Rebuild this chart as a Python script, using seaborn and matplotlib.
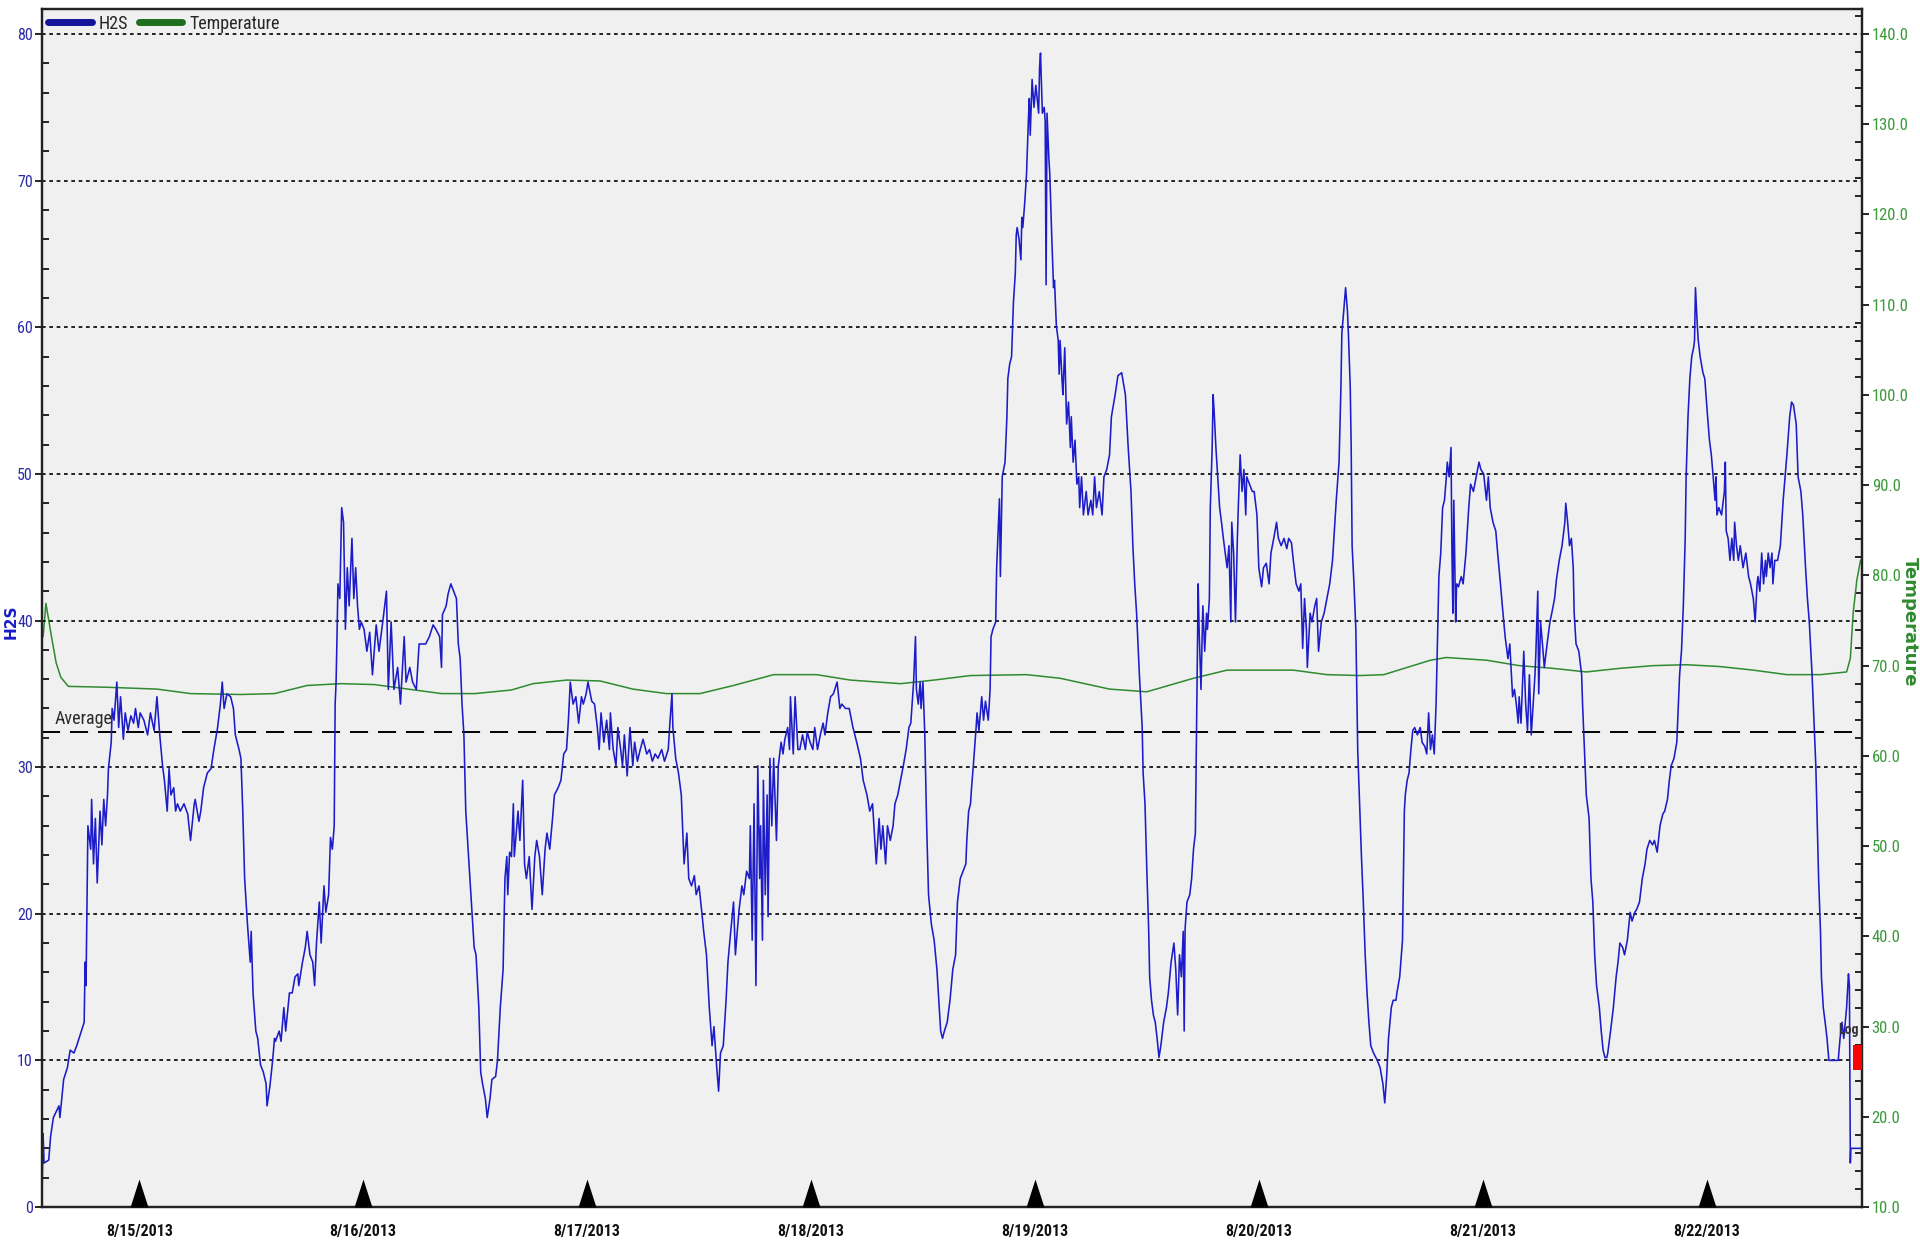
import numpy as np
import pandas as pd
import matplotlib
matplotlib.use("Agg")
import matplotlib.pyplot as plt
from matplotlib.path import Path
from matplotlib.patches import Rectangle
from matplotlib.lines import Line2D
from matplotlib.ticker import MultipleLocator, FormatStrFormatter
from matplotlib import font_manager
import matplotlib.transforms as mtransforms
import seaborn as sns

# ---------------------------------------------------------------- data
# logger readings: (hours since 2013-08-14 00:00, H2S ppm)
h2s_aug14 = [
    (13.6, 1.5), (13.7, 5.0), (13.8, 3.0), (14.3, 3.2), (14.5, 4.8), (14.8, 6.1), (15.4, 6.9),
    (15.5, 6.1), (15.9, 8.7), (16.3, 9.5), (16.6, 10.7), (17.0, 10.5), (17.3, 11.0), (17.7, 11.8),
    (18.1, 12.6), (18.2, 16.7), (18.3, 15.1), (18.5, 26.0), (18.8, 24.4), (18.9, 27.8), (19.1, 23.4),
    (19.3, 26.5), (19.5, 22.1), (19.7, 25.5), (19.8, 27.0), (20.0, 24.7), (20.2, 27.8), (20.4, 26.0),
    (20.6, 28.1), (20.7, 29.9), (21.0, 31.7), (21.1, 34.0), (21.3, 33.2), (21.6, 35.8), (21.8, 32.7),
    (22.0, 34.8), (22.3, 31.9), (22.5, 33.7), (22.8, 32.5), (23.1, 33.5), (23.4, 33.0), (23.6, 34.0),
    (23.9, 32.7),
]
h2s_aug15 = [
    (24.1, 33.7), (24.5, 33.2), (24.9, 32.2), (25.2, 33.7), (25.6, 32.5), (25.9, 34.8), (26.2, 32.2),
    (26.5, 30.1), (26.7, 29.1), (27.0, 27.0), (27.2, 29.9), (27.4, 28.1), (27.7, 28.6), (27.9, 27.0),
    (28.1, 27.5), (28.4, 27.0), (28.8, 27.5), (29.2, 26.8), (29.5, 25.0), (29.9, 27.5), (30.0, 27.8),
    (30.4, 26.3), (30.6, 27.0), (30.9, 28.6), (31.3, 29.6), (31.7, 29.9), (32.0, 31.2), (32.4, 32.7),
    (32.7, 34.3), (32.9, 35.8), (33.1, 34.0), (33.4, 35.0), (33.8, 34.8), (34.1, 34.0), (34.3, 32.2),
    (34.7, 31.2), (34.9, 30.6), (35.1, 27.0), (35.3, 22.4), (35.6, 19.3), (35.9, 16.7), (36.0, 18.8),
    (36.2, 14.6), (36.5, 12.0), (36.7, 11.5), (37.0, 9.7), (37.3, 9.2), (37.6, 8.4), (37.7, 6.9),
    (38.0, 8.2), (38.3, 10.0), (38.5, 11.5), (38.6, 11.3), (39.0, 12.0), (39.2, 11.3), (39.5, 13.6),
    (39.7, 12.0), (40.1, 14.6), (40.4, 14.6), (40.7, 15.7), (41.0, 15.9), (41.1, 15.1), (41.5, 16.7),
    (41.8, 17.7), (42.0, 18.8), (42.3, 17.2), (42.6, 16.7), (42.8, 15.1), (43.0, 18.0), (43.3, 20.8),
    (43.5, 18.0), (43.8, 21.9), (44.0, 20.1), (44.3, 21.3), (44.5, 25.2), (44.7, 24.4), (44.9, 26.0),
    (45.0, 34.3), (45.1, 35.8), (45.2, 38.9), (45.3, 42.5), (45.5, 41.5), (45.7, 47.7), (45.9, 46.7),
    (46.1, 39.4), (46.3, 43.6), (46.5, 41.0), (46.8, 45.6), (47.0, 41.5), (47.2, 43.6), (47.4, 41.0),
    (47.6, 39.4), (47.8, 39.9),
]
h2s_aug16 = [
    (48.1, 39.4), (48.4, 37.9), (48.7, 39.2), (49.0, 36.3), (49.4, 39.7), (49.7, 37.9), (50.1, 39.9),
    (50.5, 42.0), (50.7, 35.3), (51.0, 39.9), (51.3, 35.3), (51.7, 36.8), (52.0, 34.3), (52.2, 36.6),
    (52.4, 38.9), (52.6, 35.8), (53.0, 36.8), (53.3, 35.8), (53.7, 35.3), (54.0, 38.4), (54.4, 38.4),
    (54.7, 38.4), (55.1, 38.9), (55.5, 39.7), (55.8, 39.4), (56.2, 38.9), (56.4, 36.8), (56.5, 40.4),
    (56.9, 41.0), (57.1, 41.8), (57.4, 42.5), (57.7, 42.0), (58.0, 41.5), (58.2, 38.4), (58.4, 37.4),
    (58.6, 34.3), (58.8, 32.2), (59.0, 27.0), (59.3, 23.9), (59.6, 20.8), (59.9, 17.7), (60.1, 17.2),
    (60.4, 13.6), (60.6, 9.2), (60.8, 8.4), (61.1, 7.4), (61.3, 6.1), (61.6, 7.4), (61.8, 8.7),
    (62.2, 8.9), (62.4, 10.0), (62.7, 13.6), (63.0, 16.2), (63.2, 22.4), (63.4, 23.9), (63.5, 21.3),
    (63.7, 24.2), (63.9, 23.9), (64.1, 27.5), (64.2, 23.9), (64.6, 27.0), (64.8, 25.0), (65.1, 29.1),
    (65.3, 23.4), (65.5, 22.4), (65.8, 23.9), (66.1, 20.3), (66.4, 23.9), (66.6, 25.0), (66.9, 23.9),
    (67.2, 21.3), (67.5, 24.4), (67.7, 25.5), (68.0, 24.4), (68.3, 26.5), (68.5, 28.1), (68.9, 28.6),
    (69.2, 29.1), (69.5, 30.9), (69.8, 31.2), (70.0, 33.2), (70.2, 35.8), (70.5, 34.3), (70.8, 34.8),
    (71.1, 33.0), (71.4, 34.8), (71.6, 34.3), (71.9, 35.0),
]
h2s_aug17 = [
    (72.1, 35.8), (72.5, 34.5), (72.8, 34.3), (73.1, 32.7), (73.3, 31.2), (73.5, 33.7), (73.8, 31.7),
    (74.1, 33.2), (74.4, 31.2), (74.5, 33.7), (74.8, 31.2), (75.1, 30.1), (75.3, 32.7), (75.6, 31.2),
    (75.8, 30.1), (76.0, 32.2), (76.3, 29.4), (76.6, 32.7), (76.9, 30.1), (77.1, 31.7), (77.4, 30.4),
    (77.7, 31.2), (78.0, 31.9), (78.4, 30.9), (78.7, 31.2), (79.0, 30.4), (79.3, 30.9), (79.6, 30.6),
    (80.0, 31.2), (80.3, 30.4), (80.7, 31.2), (80.9, 33.2), (81.1, 35.0), (81.2, 32.7), (81.5, 30.6),
    (81.8, 29.6), (82.1, 28.1), (82.4, 23.4), (82.7, 25.5), (82.9, 22.4), (83.2, 21.9), (83.5, 22.6),
    (83.7, 21.3), (84.0, 21.9), (84.3, 20.1), (84.5, 18.8), (84.8, 17.2), (85.1, 13.6), (85.4, 11.0),
    (85.6, 12.3), (85.9, 9.5), (86.1, 7.9), (86.3, 10.5), (86.6, 11.0), (86.9, 14.1), (87.1, 16.7),
    (87.4, 18.8), (87.7, 20.8), (87.9, 17.2), (88.1, 18.8), (88.3, 20.3), (88.6, 21.9), (88.8, 21.3),
    (89.1, 22.9), (89.4, 22.4), (89.5, 26.0), (89.7, 18.2), (89.9, 27.5), (90.1, 15.1), (90.3, 30.1),
    (90.5, 22.4), (90.6, 26.0), (90.8, 18.2), (90.9, 29.1), (91.1, 21.3), (91.3, 28.1), (91.4, 19.8),
    (91.6, 30.6), (91.8, 26.0), (92.0, 30.6), (92.3, 25.0), (92.5, 30.1), (92.8, 31.7), (93.0, 30.9),
    (93.2, 31.9), (93.5, 32.7), (93.7, 31.2), (93.8, 34.8), (94.1, 30.9), (94.3, 34.8), (94.6, 31.2),
    (94.8, 31.2), (95.1, 32.2), (95.4, 31.2), (95.6, 32.4), (95.9, 31.7),
]
h2s_aug18 = [
    (96.2, 31.2), (96.4, 32.7), (96.7, 31.2), (97.0, 32.2), (97.3, 33.0), (97.5, 32.2), (97.8, 33.7),
    (98.1, 34.8), (98.4, 35.0), (98.8, 35.8), (99.1, 34.0), (99.3, 34.3), (99.7, 34.0), (100.1, 34.0),
    (100.5, 32.7), (100.9, 31.7), (101.3, 30.6), (101.6, 29.1), (102.0, 28.1), (102.3, 27.0),
    (102.6, 27.5), (103.0, 23.4), (103.3, 26.5), (103.5, 24.4), (103.7, 26.0), (104.0, 23.4),
    (104.2, 26.0), (104.5, 25.0), (104.8, 26.0), (105.0, 27.5), (105.3, 28.1), (105.6, 29.1),
    (105.9, 30.1), (106.2, 31.2), (106.5, 32.7), (106.7, 33.0), (107.0, 35.8), (107.2, 38.9),
    (107.3, 35.3), (107.5, 34.3), (107.7, 35.8), (107.8, 34.0), (108.0, 35.8), (108.2, 32.2),
    (108.4, 26.0), (108.6, 21.3), (108.9, 19.3), (109.2, 18.2), (109.5, 16.2), (109.7, 14.1),
    (109.9, 12.0), (110.1, 11.5), (110.3, 12.0), (110.6, 12.6), (110.9, 14.1), (111.2, 16.2),
    (111.5, 17.2), (111.7, 20.8), (112.0, 22.4), (112.3, 22.9), (112.6, 23.4), (112.7, 25.0),
    (112.9, 27.0), (113.1, 27.5), (113.2, 28.5), (113.4, 30.1), (113.7, 32.7), (113.8, 33.7),
    (114.0, 32.5), (114.3, 34.8), (114.5, 33.2), (114.7, 34.5), (115.0, 33.2), (115.2, 35.3),
    (115.3, 38.9), (115.5, 39.4), (115.8, 39.9), (115.9, 43.6), (116.2, 48.3), (116.3, 43.0),
    (116.5, 49.8), (116.8, 50.8), (117.0, 53.9), (117.1, 56.5), (117.3, 57.5), (117.5, 58.0),
    (117.7, 61.7), (117.9, 63.7), (118.0, 66.3), (118.1, 66.8), (118.3, 66.0), (118.5, 64.6),
    (118.6, 67.5), (118.7, 66.8), (118.9, 68.4), (119.1, 70.4), (119.3, 74.1), (119.4, 75.6),
    (119.5, 73.1), (119.7, 76.9), (119.9, 75.0),
]
h2s_aug19 = [
    (120.1, 76.5), (120.4, 74.6), (120.5, 77.7), (120.6, 78.7), (120.8, 74.6), (121.0, 75.0),
    (121.1, 74.1), (121.2, 62.9), (121.3, 74.6), (121.5, 71.5), (121.6, 70.4), (121.8, 66.3),
    (122.0, 62.7), (122.1, 63.2), (122.3, 60.1), (122.5, 59.1), (122.6, 56.8), (122.7, 59.1),
    (122.9, 56.5), (123.0, 55.4), (123.2, 58.6), (123.4, 53.4), (123.6, 54.9), (123.8, 51.8),
    (123.9, 53.9), (124.1, 50.8), (124.3, 52.3), (124.5, 49.3), (124.7, 49.8), (124.8, 47.7),
    (125.0, 49.8), (125.2, 47.2), (125.5, 48.8), (125.7, 47.2), (126.0, 48.2), (126.2, 47.2),
    (126.4, 49.8), (126.6, 47.7), (126.9, 48.8), (127.2, 47.2), (127.4, 49.8), (127.7, 50.3),
    (128.0, 51.3), (128.2, 53.9), (128.6, 55.4), (128.9, 56.7), (129.3, 56.9), (129.7, 55.4),
    (130.0, 51.8), (130.3, 48.8), (130.5, 45.1), (130.7, 42.5), (130.9, 40.5), (131.2, 36.3),
    (131.5, 32.7), (131.6, 29.6), (131.8, 27.5), (132.0, 22.9), (132.2, 18.8), (132.3, 15.7),
    (132.5, 14.1), (132.7, 13.1), (132.9, 12.6), (133.1, 11.5), (133.3, 10.2), (133.5, 11.0),
    (133.8, 12.6), (134.1, 13.6), (134.3, 14.6), (134.6, 16.7), (134.9, 18.0), (135.1, 16.2),
    (135.3, 13.1), (135.5, 17.2), (135.7, 15.7), (135.9, 18.8), (136.0, 12.0), (136.1, 19.0),
    (136.3, 20.8), (136.6, 21.3), (136.8, 22.4), (137.0, 24.4), (137.2, 25.5), (137.3, 31.2),
    (137.4, 36.3), (137.5, 42.5), (137.6, 39.4), (137.8, 35.3), (138.0, 41.0), (138.2, 37.9),
    (138.4, 40.5), (138.5, 39.4), (138.7, 41.5), (138.8, 47.7), (139.0, 51.8), (139.1, 55.4),
    (139.2, 54.4), (139.4, 51.8), (139.6, 49.8), (139.8, 47.7), (140.0, 46.7), (140.2, 45.6),
    (140.4, 44.6), (140.6, 43.6), (140.8, 45.1), (141.0, 39.9), (141.1, 46.7), (141.3, 44.6),
    (141.5, 39.9), (141.7, 45.6), (141.8, 47.7), (142.0, 51.3), (142.2, 48.8), (142.4, 50.3),
    (142.6, 47.2), (142.7, 49.8), (143.0, 49.3), (143.3, 48.8), (143.5, 48.8), (143.8, 47.2),
]
h2s_aug20 = [
    (144.0, 43.6), (144.3, 42.3), (144.5, 43.6), (144.8, 43.9), (145.1, 42.5), (145.3, 44.6),
    (145.6, 45.6), (145.9, 46.7), (146.1, 45.6), (146.4, 45.1), (146.7, 45.6), (147.0, 44.9),
    (147.2, 45.6), (147.5, 45.3), (147.7, 44.1), (148.0, 42.5), (148.3, 42.0), (148.5, 42.5),
    (148.7, 38.1), (148.9, 41.5), (149.1, 39.4), (149.2, 36.8), (149.5, 40.5), (149.7, 39.9),
    (150.0, 41.0), (150.2, 41.5), (150.4, 37.9), (150.7, 39.9), (151.0, 40.5), (151.3, 41.5),
    (151.6, 42.5), (151.9, 44.1), (152.0, 45.1), (152.3, 48.2), (152.6, 50.8), (152.8, 55.9),
    (152.9, 59.6), (153.1, 61.1), (153.3, 62.7), (153.5, 61.1), (153.6, 59.6), (153.8, 55.9),
    (153.9, 51.8), (154.0, 45.1), (154.2, 42.5), (154.4, 39.4), (154.5, 35.3), (154.6, 31.2),
    (154.8, 27.5), (155.0, 23.9), (155.2, 20.8), (155.4, 17.2), (155.6, 14.6), (155.8, 12.6),
    (156.0, 11.0), (156.3, 10.5), (156.7, 10.0), (157.0, 9.5), (157.3, 8.4), (157.5, 7.1),
    (157.7, 8.9), (157.9, 11.5), (158.2, 13.6), (158.4, 14.1), (158.7, 14.1), (158.8, 14.6),
    (159.1, 15.7), (159.4, 18.2), (159.6, 27.0), (159.7, 28.1), (159.9, 29.1), (160.1, 29.6),
    (160.3, 31.2), (160.5, 32.5), (160.7, 32.7), (161.0, 32.2), (161.3, 32.7), (161.5, 31.7),
    (161.8, 31.4), (162.0, 30.9), (162.2, 33.7), (162.4, 31.2), (162.6, 32.2), (162.8, 30.9),
    (163.0, 34.3), (163.2, 39.9), (163.3, 43.0), (163.5, 44.6), (163.7, 47.7), (163.9, 48.2),
    (164.1, 49.8), (164.2, 50.8), (164.4, 49.8), (164.6, 51.8), (164.7, 44.6), (164.8, 40.5),
    (164.9, 48.2), (165.1, 39.9), (165.2, 42.5), (165.4, 42.3), (165.7, 43.0), (165.9, 42.5),
    (166.2, 44.6), (166.5, 47.7), (166.7, 49.3), (167.0, 48.8), (167.3, 49.8), (167.6, 50.8),
    (167.8, 50.3),
]
h2s_aug21 = [
    (168.1, 50.0), (168.4, 48.2), (168.6, 49.8), (168.8, 47.7), (169.1, 46.7), (169.4, 46.1),
    (169.6, 44.6), (169.9, 42.5), (170.1, 41.0), (170.4, 38.9), (170.7, 37.4), (170.9, 38.4),
    (171.2, 34.8), (171.4, 35.3), (171.6, 34.3), (171.8, 33.0), (171.9, 34.8), (172.1, 33.0),
    (172.4, 37.9), (172.6, 34.3), (172.8, 32.5), (173.0, 36.3), (173.2, 32.2), (173.4, 34.3),
    (173.6, 36.3), (173.7, 37.9), (173.9, 42.0), (174.0, 35.0), (174.2, 39.9), (174.4, 38.4),
    (174.6, 36.8), (174.9, 38.4), (175.2, 39.9), (175.4, 40.5), (175.7, 41.5), (175.9, 42.8),
    (176.2, 44.1), (176.5, 45.1), (176.8, 46.7), (176.9, 48.0), (177.1, 46.7), (177.3, 45.1),
    (177.5, 45.6), (177.7, 43.6), (177.8, 40.5), (178.0, 38.4), (178.3, 37.9), (178.6, 36.3),
    (178.7, 34.3), (178.9, 31.2), (179.1, 28.1), (179.4, 26.5), (179.6, 22.4), (179.8, 20.8),
    (180.0, 17.2), (180.2, 15.1), (180.5, 13.6), (180.7, 12.0), (180.9, 10.7), (181.1, 10.2),
    (181.3, 10.2), (181.4, 10.5), (181.7, 12.0), (182.0, 13.6), (182.3, 15.7), (182.5, 16.7),
    (182.7, 18.0), (183.0, 17.7), (183.2, 17.2), (183.5, 18.2), (183.8, 20.1), (184.0, 19.5),
    (184.3, 20.1), (184.5, 20.3), (184.8, 20.8), (185.1, 22.4), (185.4, 23.4), (185.6, 24.4),
    (185.9, 25.0), (186.2, 24.7), (186.4, 25.0), (186.7, 24.2), (187.0, 26.0), (187.3, 26.8),
    (187.5, 27.0), (187.8, 27.8), (188.0, 29.1), (188.2, 30.1), (188.5, 30.6), (188.8, 31.7),
    (188.9, 33.2), (189.1, 36.3), (189.3, 37.9), (189.5, 41.0), (189.7, 45.6), (189.8, 49.8),
    (190.0, 53.9), (190.2, 56.5), (190.4, 58.0), (190.6, 58.6), (190.7, 59.1), (190.8, 62.7),
    (191.0, 60.1), (191.1, 59.1), (191.3, 58.0), (191.6, 56.9), (191.8, 56.5),
]
h2s_aug22 = [
    (192.1, 53.9), (192.3, 52.3), (192.5, 51.3), (192.7, 49.8), (192.9, 48.2), (193.0, 49.8),
    (193.1, 47.2), (193.3, 47.7), (193.6, 47.2), (193.9, 48.8), (194.0, 50.8), (194.1, 46.1),
    (194.3, 45.6), (194.5, 44.1), (194.7, 45.6), (194.9, 44.1), (195.0, 46.7), (195.2, 45.1),
    (195.4, 44.1), (195.6, 45.1), (195.7, 44.6), (195.9, 43.6), (196.2, 44.6), (196.5, 43.0),
    (196.7, 42.5), (197.0, 41.5), (197.2, 39.9), (197.4, 42.5), (197.5, 43.0), (197.7, 42.0),
    (197.9, 44.6), (198.1, 42.5), (198.3, 44.1), (198.4, 43.0), (198.6, 44.6), (198.8, 43.6),
    (199.0, 44.6), (199.1, 42.5), (199.3, 44.1), (199.6, 44.1), (199.9, 45.1), (200.2, 48.2),
    (200.6, 51.3), (200.9, 53.9), (201.1, 54.9), (201.3, 54.7), (201.6, 53.4), (201.8, 49.8),
    (202.1, 48.8), (202.3, 47.2), (202.6, 43.6), (202.8, 41.5), (203.0, 39.9), (203.3, 36.3),
    (203.5, 33.2), (203.7, 30.1), (203.9, 25.0), (204.0, 22.4), (204.2, 18.8), (204.3, 15.7),
    (204.5, 13.6), (204.7, 12.6), (204.9, 11.5), (205.1, 10.0), (205.4, 10.0), (205.8, 10.0),
    (206.1, 10.0), (206.3, 11.5), (206.5, 12.6), (206.7, 11.5), (207.0, 13.6), (207.2, 15.9),
    (207.3, 15.1), (207.4, 3.0), (207.45, 4.0), (208.5, 4.0),
]

# temperature (hours since 2013-08-14 00:00, deg)
temperature = [
    (13.7, 73.2), (14.0, 76.9), (14.6, 73.2), (15.1, 70.3), (15.6, 68.7), (16.4, 67.7), (20.6, 67.6),
    (25.9, 67.4), (29.5, 66.9), (34.9, 66.8), (38.5, 66.9), (42.0, 67.8), (45.6, 68.0), (49.2, 67.9),
    (52.8, 67.4), (56.4, 66.9), (60.0, 66.9), (63.9, 67.3), (66.2, 68.0), (69.8, 68.4), (73.4, 68.3),
    (76.9, 67.4), (80.5, 66.9), (84.1, 66.9), (87.7, 67.8), (92.0, 69.0), (96.6, 69.0), (100.2, 68.4),
    (105.6, 68.0), (109.2, 68.4), (113.1, 68.9), (119.1, 69.0), (122.7, 68.6), (128.0, 67.4),
    (132.0, 67.1), (137.0, 68.6), (140.6, 69.5), (147.7, 69.5), (151.3, 69.0), (154.9, 68.9),
    (157.4, 69.0), (162.4, 70.6), (164.1, 70.9), (168.4, 70.6), (171.9, 70.0), (175.5, 69.7),
    (179.1, 69.3), (182.7, 69.7), (186.3, 70.0), (189.8, 70.1), (193.4, 69.9), (197.0, 69.5),
    (200.6, 69.0), (204.2, 69.0), (207.0, 69.3), (207.4, 70.8), (207.7, 75.8), (208.1, 79.5),
    (208.5, 81.7),
]

day_ticks = ["2013-08-15", "2013-08-16", "2013-08-17", "2013-08-18",
             "2013-08-19", "2013-08-20", "2013-08-21", "2013-08-22"]
day_labels = ["8/15/2013", "8/16/2013", "8/17/2013", "8/18/2013",
              "8/19/2013", "8/20/2013", "8/21/2013", "8/22/2013"]
h2s_ticks = [0, 10, 20, 30, 40, 50, 60, 70, 80]
temp_ticks = [10, 20, 30, 40, 50, 60, 70, 80, 90, 100, 110, 120, 130, 140]
average_h2s = 32.4
log_band = (9.35, 11.05)

start = pd.Timestamp("2013-08-14 00:00")
x_hours = (13.58, 208.65)
h2s_lim = (0, 81.74)
temp_lim = (10, 10 + 81.74 * 130 / 80)

# ---------------------------------------------------------------- styling
sns.set_style("white")


def first_font(cands):
    names = {f.name for f in font_manager.fontManager.ttflist}
    for c in cands:
        if c in names:
            return c
    return "DejaVu Sans"


NARROW = first_font(["Liberation Sans Narrow", "Arial Narrow", "Roboto Condensed", "Liberation Sans"])
plt.rcParams["font.family"] = [NARROW, "DejaVu Sans"]

BLUE = "#1c1cc8"
BLUE_TXT = "#2b2ba6"
GREEN = "#2f8a2f"
GREEN_TXT = "#3a9a3a"

h2s_df = pd.DataFrame(h2s_aug14 + h2s_aug15 + h2s_aug16 + h2s_aug17 + h2s_aug18
                      + h2s_aug19 + h2s_aug20 + h2s_aug21 + h2s_aug22,
                      columns=["hours", "H2S"])
h2s_df["time"] = start + pd.to_timedelta(h2s_df["hours"], unit="h")
temp_df = pd.DataFrame(temperature, columns=["hours", "Temperature"])
temp_df["time"] = start + pd.to_timedelta(temp_df["hours"], unit="h")

fig = plt.figure(figsize=(19.2, 12.42), dpi=100)
fig.patch.set_facecolor("white")
ax = fig.add_axes([42 / 1920, 35 / 1242, 1820 / 1920, 1198.5 / 1242])
ax2 = ax.twinx()
ax.set_zorder(ax2.get_zorder() + 1)
ax.patch.set_visible(False)
ax2.patch.set_visible(True)
ax2.set_facecolor("#f0f0f0")

sns.lineplot(data=temp_df, x="time", y="Temperature", ax=ax2, color=GREEN, lw=1.1,
             estimator=None, sort=False, legend=False)
sns.lineplot(data=h2s_df, x="time", y="H2S", ax=ax, color=BLUE, lw=1.15,
             estimator=None, sort=False, legend=False)

ax.set_xlim(start + pd.Timedelta(hours=x_hours[0]), start + pd.Timedelta(hours=x_hours[1]))
ax.set_ylim(*h2s_lim)
ax2.set_ylim(*temp_lim)

# grid and average
ax.set_yticks(h2s_ticks)
ax.yaxis.set_minor_locator(MultipleLocator(2))
ax.grid(False)
ax2.grid(False)
for v in h2s_ticks[1:]:
    ax.axhline(v, color="black", lw=1.2, ls=(0, (2.2, 2.2)), zorder=1)
ax.axhline(average_h2s, color="black", lw=1.4, ls=(0, (9.3, 5.1)), zorder=1.5)
ax.text(0.007, average_h2s + 0.3, "Average",
        transform=mtransforms.blended_transform_factory(ax.transAxes, ax.transData),
        ha="left", va="bottom", fontsize=13, color="#2a2a2a")

# x axis: day ticks with triangles
tick_dates = pd.to_datetime(day_ticks)
ax.set_xticks(tick_dates)
ax.set_xticklabels(day_labels, fontsize=11.5, fontweight="bold", color="#111111")
ax.tick_params(axis="x", which="major", direction="out", length=9, width=1.2, pad=3, color="black")
ax.tick_params(axis="x", which="minor", length=0)
tri = Path([(-0.32, 0.0), (0.32, 0.0), (0.0, 1.0), (-0.32, 0.0)],
           [Path.MOVETO, Path.LINETO, Path.LINETO, Path.CLOSEPOLY])
ax.plot(tick_dates, np.zeros(len(tick_dates)), ls="none", marker=tri, ms=40.3, mew=0,
        color="black", clip_on=False, zorder=6)

# left axis
ax.tick_params(axis="y", which="major", direction="out", length=5, width=1.2, color="black",
               labelcolor=BLUE_TXT, labelsize=11.5, pad=1.5)
ax.tick_params(axis="y", which="minor", direction="in", length=5, width=1.2, color="black")
ax.set_xlabel("")
ax.set_ylabel("H2S", color=BLUE, fontsize=11, fontweight="bold", family="DejaVu Sans")
ax.yaxis.set_label_coords(-0.0128, 0.488)

# right axis
ax2.set_yticks(temp_ticks)
ax2.yaxis.set_major_formatter(FormatStrFormatter("%.1f"))
ax2.yaxis.set_minor_locator(MultipleLocator(2))
ax2.tick_params(axis="y", which="major", direction="out", length=5, width=1.2, color="black",
                labelcolor=GREEN_TXT, labelsize=12, pad=2)
ax2.tick_params(axis="y", which="minor", direction="in", length=5, width=1.2, color="black")
ax2.set_ylabel("Temperature", color=GREEN, fontsize=13, fontweight="bold", family="DejaVu Sans",
               rotation=-90, va="bottom")
ax2.yaxis.set_label_coords(1.0212, 0.488)

for a in (ax, ax2):
    for s in a.spines.values():
        s.set_color("#222222")
        s.set_linewidth(1.6)
        s.set_visible(True)

# logger marker at the right edge
bt = mtransforms.blended_transform_factory(ax.transAxes, ax.transData)
ax.add_patch(Rectangle((0.995, log_band[0]), 0.005, log_band[1] - log_band[0], transform=bt,
                       facecolor="#ff0000", edgecolor="none", zorder=7, clip_on=False))
ax.text(0.9926, 12.1, "Log", transform=bt, ha="center", va="center", fontsize=10,
        fontweight="bold", color="#333333", zorder=8)

# legend
handles = [Line2D([], [], color="#14149a", lw=5), Line2D([], [], color="#1d6e1d", lw=5)]
ax.legend(handles, ["H2S", "Temperature"], loc="upper left", bbox_to_anchor=(0.0, 1.0),
          ncol=2, frameon=False, fontsize=13, handlelength=2.4, handletextpad=0.4,
          columnspacing=0.6, borderaxespad=0.05, borderpad=0.3)

fig.savefig("out.png", dpi=100, facecolor="white")
